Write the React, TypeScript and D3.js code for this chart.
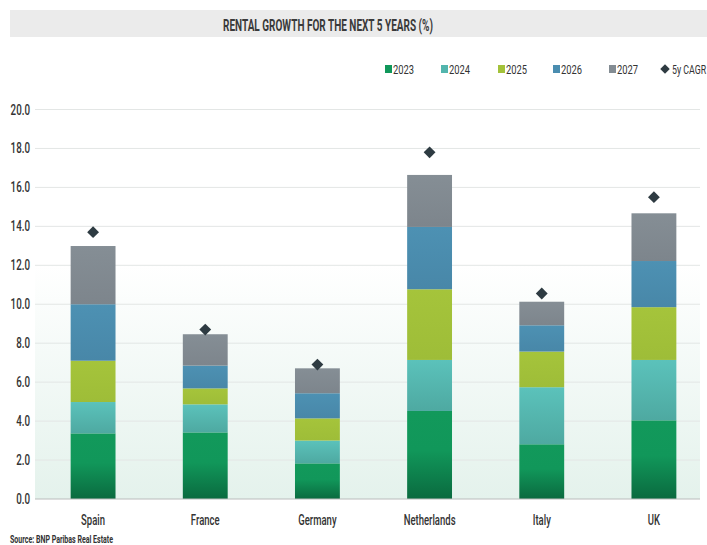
import React from "react";
import * as d3 from "d3";

const countries = ["Spain", "France", "Germany", "Netherlands", "Italy", "UK"];
const years = ["2023", "2024", "2025", "2026", "2027"];
const v2023 = [3.37, 3.42, 1.83, 4.52, 2.81, 4.04];
const v2024 = [1.61, 1.44, 1.17, 2.62, 2.93, 3.1];
const v2025 = [2.12, 0.82, 1.14, 3.63, 1.83, 2.71];
const v2026 = [2.9, 1.17, 1.29, 3.2, 1.35, 2.37];
const v2027 = [2.99, 1.61, 1.28, 2.67, 1.21, 2.45];
const cagr = [13.7, 8.7, 6.9, 17.8, 10.55, 15.5];
const yTicks = [0, 2, 4, 6, 8, 10, 12, 14, 16, 18, 20];

const seriesColors: Record<string, string> = {
  "2023": "#10975a",
  "2024": "#52b5ad",
  "2025": "#a3c23a",
  "2026": "#4a8db0",
  "2027": "#838c93",
};

const W = 707;
const H = 545;

function SText(props: any) {
  const { x, y, sx = 0.7, anchor = "start", children, ...rest } = props;
  return (
    <text
      transform={`translate(${x},${y}) scale(${sx},1)`}
      textAnchor={anchor}
      fontFamily="Roboto, 'DejaVu Sans', sans-serif"
      {...rest}
    >
      {children}
    </text>
  );
}

export default function App() {
  const rows = countries.map((c, i) => ({
    country: c,
    "2023": v2023[i],
    "2024": v2024[i],
    "2025": v2025[i],
    "2026": v2026[i],
    "2027": v2027[i],
  }));
  const stacked = d3.stack<any>().keys(years)(rows);

  const x = d3
    .scaleBand<string>()
    .domain(countries)
    .range([37, 710])
    .paddingInner(0.6)
    .paddingOuter(0.3);
  const y = d3.scaleLinear().domain([0, 20]).range([499, 109.5]);
  const plotLeft = 35;
  const plotRight = 700;
  const diamond = d3.symbol().type(d3.symbolSquare).size(70)() as string;

  const legendX = [385, 441, 498, 553, 609];

  return (
    <svg
      width={W}
      height={H}
      style={{ position: "absolute", left: 0, top: 0, background: "#fff" }}
    >
      <defs>
        <linearGradient id="bg" x1="0" y1="0" x2="0" y2="1">
          <stop offset="0" stopColor="#ffffff" />
          <stop offset="0.4" stopColor="#ffffff" />
          <stop offset="1" stopColor="#e4f2ec" />
        </linearGradient>
        <linearGradient id="g2023" x1="0" y1="0" x2="0" y2="1">
          <stop offset="0" stopColor="#12995b" />
          <stop offset="0.45" stopColor="#11975a" />
          <stop offset="1" stopColor="#0a6a3f" />
        </linearGradient>
        <linearGradient id="g2024" x1="0" y1="0" x2="0" y2="1">
          <stop offset="0" stopColor="#5bc2bb" />
          <stop offset="1" stopColor="#4ea9a1" />
        </linearGradient>
        <linearGradient id="g2025" x1="0" y1="0" x2="0" y2="1">
          <stop offset="0" stopColor="#a5c43b" />
          <stop offset="1" stopColor="#9ebd38" />
        </linearGradient>
        <linearGradient id="g2026" x1="0" y1="0" x2="0" y2="1">
          <stop offset="0" stopColor="#4d91b3" />
          <stop offset="1" stopColor="#4887a8" />
        </linearGradient>
        <linearGradient id="g2027" x1="0" y1="0" x2="0" y2="1">
          <stop offset="0" stopColor="#858e95" />
          <stop offset="1" stopColor="#7d858c" />
        </linearGradient>
      </defs>

      {/* title band */}
      <rect x={10} y={10} width={697} height={27} fill="#ebebeb" />
      <text
        x={223}
        y={30.5}
        textLength={210}
        lengthAdjust="spacingAndGlyphs"
        fontFamily="Roboto, 'DejaVu Sans', sans-serif"
        fontWeight={700}
        fontSize={17}
        fill="#3a3a3a"
      >
        RENTAL GROWTH FOR THE NEXT 5 YEARS (%)
      </text>

      {/* legend */}
      {years.map((yr, i) => (
        <g key={yr}>
          <rect x={legendX[i]} y={65} width={7} height={8} fill={seriesColors[yr]} />
          <SText x={legendX[i] + 8} y={73.5} sx={0.72} fontSize={13} fill="#333">
            {yr}
          </SText>
        </g>
      ))}
      <path d={diamond} transform="translate(665,69) rotate(45) scale(0.8)" fill="#2e3b42" />
      <SText x={672} y={73.5} sx={0.68} fontSize={13} fill="#333">
        5y CAGR
      </SText>

      {/* plot background */}
      <rect
        x={plotLeft}
        y={y(20)}
        width={plotRight - plotLeft}
        height={y(0) - y(20)}
        fill="url(#bg)"
      />

      {/* gridlines and ticks */}
      {yTicks.map((t) => (
        <g key={t}>
          {t > 0 && (
            <line
              x1={plotLeft}
              x2={plotRight}
              y1={y(t)}
              y2={y(t)}
              stroke="#e3e6e5"
              strokeWidth={1}
            />
          )}
          <SText
            x={30}
            y={y(t) + 5}
            sx={0.7}
            anchor="end"
            fontSize={14}
            fontWeight={500}
            fill="#333"
          >
            {t.toFixed(1)}
          </SText>
        </g>
      ))}

      {/* bars */}
      {stacked.map((s) => (
        <g key={s.key} fill={`url(#g${s.key})`}>
          {s.map((d: any) => (
            <rect
              key={d.data.country}
              x={x(d.data.country)}
              y={y(d[1])}
              width={x.bandwidth()}
              height={y(d[0]) - y(d[1])}
            />
          ))}
        </g>
      ))}

      {/* baseline */}
      <line x1={plotLeft} x2={plotRight} y1={y(0)} y2={y(0)} stroke="#b9bcbc" strokeWidth={1.2} />

      {/* CAGR diamonds */}
      {countries.map((c, i) => (
        <path
          key={c}
          d={diamond}
          transform={`translate(${(x(c) as number) + x.bandwidth() / 2},${y(cagr[i])}) rotate(45)`}
          fill="#2e3b42"
        />
      ))}

      {/* x labels */}
      {countries.map((c) => (
        <SText
          key={c}
          x={(x(c) as number) + x.bandwidth() / 2}
          y={525}
          sx={0.68}
          anchor="middle"
          fontSize={14}
          fontWeight={500}
          fill="#333"
        >
          {c}
        </SText>
      ))}

      {/* source */}
      <text
        x={10}
        y={543}
        textLength={103}
        lengthAdjust="spacingAndGlyphs"
        fontFamily="Roboto, 'DejaVu Sans', sans-serif"
        fontWeight={700}
        fontSize={10.5}
        fill="#333"
      >
        Source: BNP Paribas Real Estate
      </text>
    </svg>
  );
}
